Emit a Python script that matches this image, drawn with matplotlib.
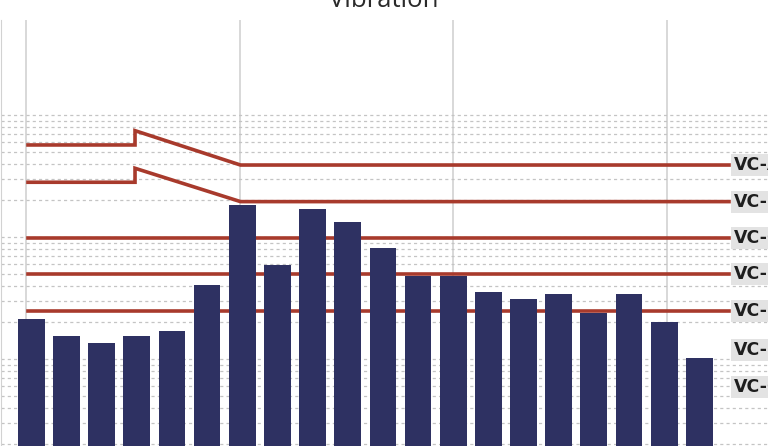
import numpy as np
import matplotlib.pyplot as plt
from matplotlib.ticker import FixedLocator

# 1/3-octave bands (labels fall outside the cropped view)
bands = [str(i + 1) for i in range(20)]
measured = [2.13, 1.54, 1.35, 1.54, 1.70, 4.04, 18.3, 5.89, 16.96, 13.3,
            8.13, 4.79, 4.79, 3.54, 3.10, 3.41, 2.38, 3.41, 2.01, 1.02]

# vibration criteria, level on the flat part of each curve
vc_names = ["VC-A", "VC-B", "VC-C", "VC-D", "VC-E", "VC-F", "VC-G"]
vc_levels = [38.9, 19.5, 9.8, 4.95, 2.47, 1.19, 0.59]
# VC-A / VC-B have a low-frequency part: flat level, then a peak sloping down
vc_low = [56.8, 28.1]
vc_peak = [74.4, 36.6]
vc_drawn = 5  # only VC-A..VC-E have a line in the view

BAR_COLOR = "#2e3162"
RED = "#a83a2c"

# pixel layout of the (cropped) plot area
PX0, PITCH = 31.3, 35.16          # bar 0 centre, bar pitch
def idx(px):
    return (px - PX0) / PITCH

fig = plt.figure(figsize=(7.68, 4.46), dpi=100)
top_px, bot_px, left_px, right_px = 20, 481, 0.5, 880
ax = fig.add_axes([left_px / 768, 1 - bot_px / 446,
                   (right_px - left_px) / 768, (bot_px - top_px) / 446])

x = np.arange(len(bands))
ax.bar(x, measured, width=0.76, color=BAR_COLOR, zorder=3)

x_start, x_step, x_knee, x_end = idx(28), 2.95, 5.95, idx(729)
for i in range(vc_drawn):
    if i < len(vc_low):
        xs = [x_start, x_step, x_step, x_knee, x_end]
        ys = [vc_low[i], vc_low[i], vc_peak[i], vc_levels[i], vc_levels[i]]
    else:
        xs = [x_start, x_end]
        ys = [vc_levels[i], vc_levels[i]]
    ax.plot(xs, ys, color=RED, lw=2.6, solid_joinstyle="miter", zorder=2)

for name, lvl in zip(vc_names, vc_levels):
    ax.text(idx(733.5), lvl, name, ha="left", va="center", fontsize=12.5,
            family="DejaVu Sans", fontweight="bold", color="#1e1e1e", zorder=4,
            bbox=dict(boxstyle="square,pad=0.12", fc="#e3e3e3", ec="none"))

ax.set_yscale("log")
ax.set_ylim(0.1, 10 ** ((359 - top_px) / 122))
ax.set_xlim(idx(left_px), idx(right_px))

grid_vals = [m * 10.0 ** k for k in (-1, 0, 1) for m in range(1, 10)] + [100]
ax.yaxis.set_major_locator(FixedLocator([]))
ax.yaxis.set_minor_locator(FixedLocator(grid_vals))
ax.set_xticks([idx(26), idx(240), idx(453), idx(667)])
ax.grid(axis="y", which="minor", color="#c4c4c4", lw=0.9, ls=(0, (2.5, 2.5)))
ax.grid(axis="x", which="major", color="#d2d2d2", lw=1.2)
ax.set_axisbelow(True)
ax.tick_params(which="both", length=0, labelleft=False, labelbottom=False)
for s in ("top", "right", "bottom"):
    ax.spines[s].set_visible(False)
ax.spines["left"].set_color("#d2d2d2")

fig.text(383.5 / 768, 1 - 7 / 446, "Vibration", ha="center", va="baseline",
         fontsize=18.5, family="Open Sans", color="#2a2a2a")

fig.savefig("out.png", dpi=100)
